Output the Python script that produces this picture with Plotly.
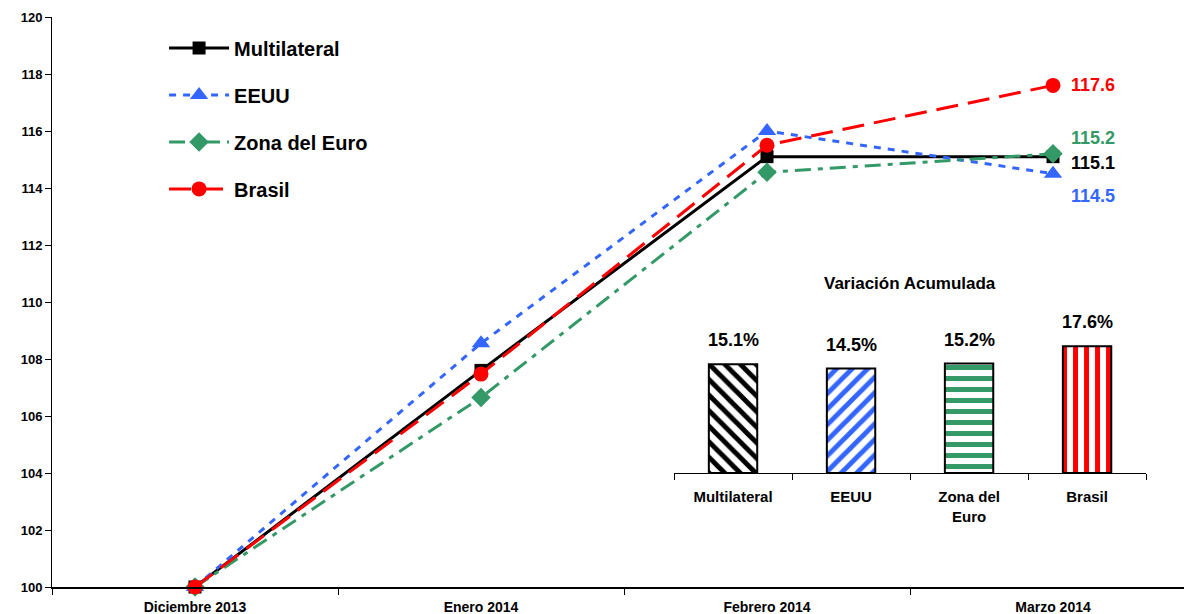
import plotly.graph_objects as go

months = ["Diciembre 2013", "Enero 2014", "Febrero 2014", "Marzo 2014"]
multilateral = [100.0, 107.6, 115.1, 115.1]
eeuu = [100.0, 108.55, 116.0, 114.5]
zona_euro = [100.0, 106.65, 114.55, 115.2]
brasil = [100.0, 107.47, 115.5, 117.6]

bar_categories = ["Multilateral", "EEUU", "Zona del<br>Euro", "Brasil"]
bar_values = [15.1, 14.5, 15.2, 17.6]
bar_labels = ["15.1%", "14.5%", "15.2%", "17.6%"]

y_ticks = [100, 102, 104, 106, 108, 110, 112, 114, 116, 118, 120]

FONT = "Liberation Sans, Arial, sans-serif"
BLACK = "#000000"
BLUE = "#3366FF"
GREEN = "#339966"
RED = "#FF0000"

series = [
    ("Multilateral", multilateral, BLACK, "solid", "square", 13),
    ("EEUU", eeuu, BLUE, "7px,7px", "triangle-up", 16),
    ("Zona del Euro", zona_euro, GREEN, "16px,7px,5px,7px", "diamond", 15),
    ("Brasil", brasil, RED, "22px,10px", "circle", 15),
]

fig = go.Figure()
for i, (name, vals, col, dash, sym, size) in enumerate(series):
    fig.add_trace(go.Scatter(
        x=months, y=vals, name=name, mode="lines+markers",
        line=dict(color=col, width=3, dash=dash),
        marker=dict(color=col, symbol=sym, size=size),
        cliponaxis=False, legendgroup=f"g{i}",
        xaxis="x", yaxis="y",
    ))

# end labels
label_shifts = {"Multilateral": (-6, BLACK), "EEUU": (-22, BLUE),
                "Zona del Euro": (16, GREEN), "Brasil": (0, RED)}
for name, vals, col, dash, sym, size in series:
    ys, c = label_shifts[name]
    fig.add_annotation(x=months[-1], y=vals[-1], xref="x", yref="y",
                       text=f"{vals[-1]:.1f}", showarrow=False,
                       xanchor="left", xshift=16, yshift=ys,
                       font=dict(family=FONT, size=18, color=c, weight="bold"))

bar_colors = [BLACK, BLUE, GREEN, RED]
bar_shapes = ["\\", "/", "-", "|"]
fig.add_trace(go.Bar(
    x=bar_categories, y=bar_values, xaxis="x2", yaxis="y2",
    marker=dict(color="white", line=dict(color=BLACK, width=2),
                pattern=dict(shape=bar_shapes, fgcolor=bar_colors,
                             bgcolor="white", size=11, solidity=0.45,
                             fgopacity=1, fillmode="overlay")),
    width=0.41, showlegend=False,
))
for cat, val, lab in zip(bar_categories, bar_values, bar_labels):
    fig.add_annotation(x=cat, y=val, xref="x2", yref="y2", text=lab,
                       showarrow=False, yanchor="middle", yshift=24,
                       font=dict(family=FONT, size=18, color=BLACK, weight="bold"))

fig.add_annotation(x=0.5, y=1.0, xref="x2 domain", yref="y2 domain",
                   text="Variación Acumulada", showarrow=False,
                   yanchor="middle", yshift=46,
                   font=dict(family=FONT, size=17, color=BLACK, weight="bold"))

fig.update_layout(
    width=1176, height=606,
    margin=dict(l=44, r=0, t=9, b=27),
    plot_bgcolor="white", paper_bgcolor="white",
    font=dict(family=FONT, color=BLACK),
    showlegend=True,
    legend=dict(x=0.099, y=0.98, xanchor="left", yanchor="top",
                bgcolor="rgba(0,0,0,0)", tracegroupgap=18,
                font=dict(family=FONT, size=20, color=BLACK, weight="bold"),
                itemwidth=60),
    xaxis=dict(type="category", categoryarray=months, range=[-0.5, 3.458],
               showline=True, linecolor=BLACK, linewidth=2,
               ticks="outside", tickson="boundaries", ticklen=6, tickcolor=BLACK,
               showgrid=False, zeroline=False, ticklabelstandoff=6,
               tickfont=dict(family=FONT, size=14, color=BLACK, weight="bold")),
    yaxis=dict(range=[100, 120], tickvals=y_ticks, showline=True,
               linecolor=BLACK, linewidth=1, ticks="outside", ticklen=6,
               tickcolor=BLACK, showgrid=False, zeroline=False,
               tickfont=dict(family=FONT, size=13, color=BLACK, weight="bold")),
    xaxis2=dict(domain=[0.5495, 0.9665], anchor="y2", type="category",
                showline=True, linecolor=BLACK, linewidth=1,
                ticks="outside", tickson="boundaries", ticklen=6, tickcolor=BLACK,
                showgrid=False, zeroline=False, ticklabelstandoff=10,
                tickfont=dict(family=FONT, size=15, color=BLACK, weight="bold")),
    yaxis2=dict(domain=[0.2, 0.4526], anchor="x2", range=[0, 20],
                visible=False, showgrid=False, zeroline=False),
)

fig.write_html("out.html")
